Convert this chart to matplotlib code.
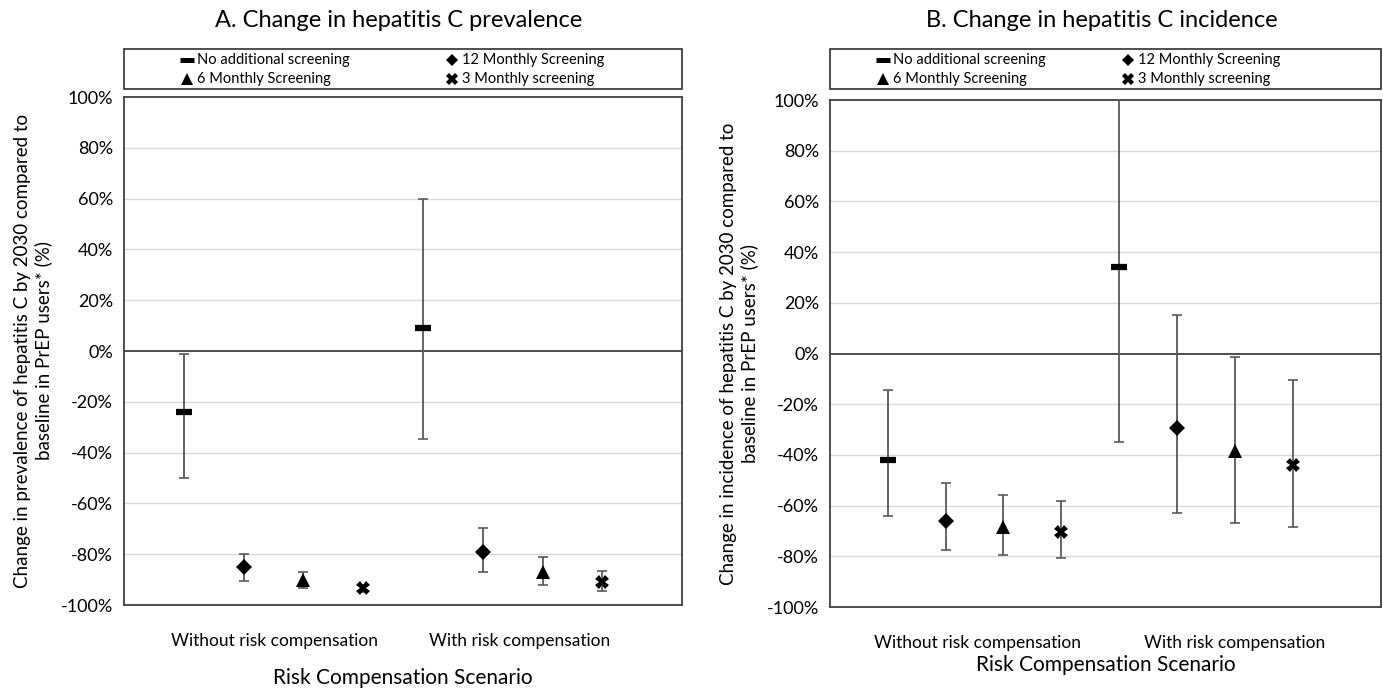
import numpy as np
import matplotlib
matplotlib.use("Agg")
import matplotlib.pyplot as plt
from matplotlib.patches import Rectangle

plt.rcParams['font.family'] = ['Lato', 'DejaVu Sans']

# series order: no additional, 12 monthly, 6 monthly, 3 monthly
series = ["No additional screening", "12 Monthly Screening",
          "6 Monthly Screening", "3 Monthly screening"]
scenarios = ["Without risk compensation", "With risk compensation"]

# panel A: prevalence (%), [without, with]
prev_mid = [[-24, 9], [-85, -79], [-90, -87], [-93.5, -91]]
prev_lo = [[-50, -34.5], [-90.5, -87], [-93.5, -92], [-95, -94.5]]
prev_hi = [[-1, 60], [-80, -69.5], [-87, -81], [-92, -86.5]]

# panel B: incidence (%)
inc_mid = [[-42, 34], [-66, -29.5], [-68.5, -38.5], [-70.5, -44]]
inc_lo = [[-64, -35], [-77.5, -63], [-79.5, -67], [-80.5, -68.5]]
inc_hi = [[-14.5, 110], [-51, 15], [-56, -1.5], [-58, -10.5]]

titles = ["A. Change in hepatitis C prevalence", "B. Change in hepatitis C incidence"]
ylabels = ["Change in prevalence of hepatitis C by 2030 compared to\nbaseline in PrEP users* (%)",
           "Change in incidence of hepatitis C by 2030 compared to\nbaseline in PrEP users* (%)"]
yticks = [-100, -80, -60, -40, -20, 0, 20, 40, 60, 80, 100]

markers = ['_', 'D', '^', 'X']
msizes = [12, 8, 10, 10]
mews = [4.5, 0, 0, 0]

fig = plt.figure(figsize=(13.83, 6.92), dpi=100)
W, H = 1383, 692
boxes = [(124, 682, 97, 605), (830, 1381, 100, 607)]
xlims = [9.33, 9.53]
label_pos = [[2.51, 6.62], [2.55, 7.0]]
leg_cols = [[0.113, 0.588], [0.096, 0.541]]
xlabel_pad = [14, 3]

for p in range(2):
    l, r, t, b = boxes[p]
    ax = fig.add_axes([l / W, 1 - b / H, (r - l) / W, (b - t) / H])
    mids, los, his = [(prev_mid, prev_lo, prev_hi), (inc_mid, inc_lo, inc_hi)][p]
    for g in range(2):
        for s in range(4):
            x = 1 + g * 4 + s
            m = mids[s][g]
            ax.errorbar([x], [m], yerr=[[m - los[s][g]], [his[s][g] - m]],
                        fmt='none', ecolor='#595959', elinewidth=1.3,
                        capsize=3.5, capthick=1.2, zorder=3)
            ax.plot([x], [m], marker=markers[s], color='black', markersize=msizes[s],
                    markeredgewidth=mews[s], linestyle='none', zorder=4)
    ax.set_xlim(0, xlims[p])
    ax.set_ylim(-100, 100)
    ax.set_yticks(yticks)
    ax.set_yticklabels([f"{v}%" for v in yticks], fontsize=13)
    ax.set_xticks(label_pos[p])
    ax.set_xticklabels(scenarios, fontsize=12.5)
    ax.tick_params(length=0, pad=8)
    ax.tick_params(axis='x', pad=20)
    for v in yticks:
        if v not in (0, -100, 100):
            ax.axhline(v, color='#d9d9d9', lw=1, zorder=1)
    ax.axhline(0, color='#404040', lw=1.3, zorder=2)
    for sp in ax.spines.values():
        sp.set_color('#404040')
        sp.set_linewidth(1.3)
    ax.set_xlabel("Risk Compensation Scenario", fontsize=15, labelpad=xlabel_pad[p])
    ax.set_ylabel(ylabels[p], fontsize=13.5, labelpad=6)
    fig.text((l + r) / 2 / W - 0.003, 0.971, titles[p], fontsize=17, ha='center', va='center')

    # legend box
    lt, lb = 49, 89
    fig.add_artist(Rectangle((l / W, 1 - lb / H), (r - l) / W, (lb - lt) / H,
                             transform=fig.transFigure, fill=False,
                             edgecolor='#303030', lw=1.2))
    rows = [0.913, 0.886]
    cells = [(0, 0), (0, 1), (1, 0), (1, 1)]
    for s in range(4):
        row, col = cells[s]
        xm = (l + leg_cols[p][col] * (r - l)) / W
        fig.lines.append(plt.Line2D([xm], [rows[row]], marker=markers[s], color='black',
                                    markersize=msizes[s] * 0.8, markeredgewidth=mews[s] * 0.8,
                                    linestyle='none', transform=fig.transFigure))
        fig.text(xm + 0.0075, rows[row], series[s], fontsize=10.5, va='center', ha='left')

fig.savefig("out.png", dpi=100)
